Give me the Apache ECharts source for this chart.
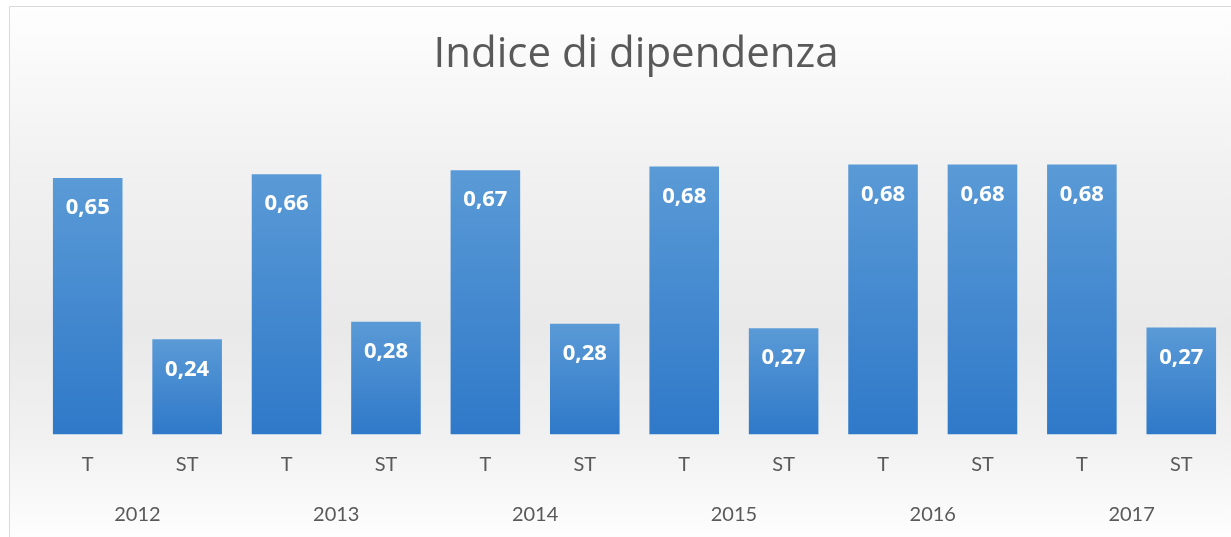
<!DOCTYPE html>
<html>
<head>
<meta charset="utf-8">
<script src="https://cdn.jsdelivr.net/npm/echarts@6/dist/echarts.min.js"></script>
<style>
  html, body { margin: 0; padding: 0; background: #fff; }
  #main { width: 1231px; height: 537px; }
</style>
</head>
<body>
<div id="main"></div>
<script>
// dati
const categories = ['T', 'ST', 'T', 'ST', 'T', 'ST', 'T', 'ST', 'T', 'ST', 'T', 'ST'];
const years = ['2012', '2013', '2014', '2015', '2016', '2017'];
const values = [0.647, 0.240, 0.657, 0.284, 0.667, 0.279, 0.676, 0.268, 0.681, 0.681, 0.681, 0.270];

const chart = echarts.init(document.getElementById('main'));

const option = {
  backgroundColor: '#ffffff',
  animation: false,
  graphic: [
    {
      type: 'rect',
      z: -10,
      shape: { x: 9.5, y: 6.5, width: 1260, height: 540 },
      style: {
        fill: new echarts.graphic.LinearGradient(0, 0, 0, 1, [
          { offset: 0, color: '#fefefe' },
          { offset: 0.3, color: '#f1f1f1' },
          { offset: 0.6, color: '#e9e9e9' },
          { offset: 0.8, color: '#f1f1f1' },
          { offset: 1, color: '#ffffff' }
        ]),
        stroke: '#d9d9d9',
        lineWidth: 1
      }
    }
  ],
  title: {
    text: 'Indice di dipendenza',
    left: 631,
    top: 29,
    textAlign: 'center',
    textStyle: {
      fontFamily: 'Open Sans',
      fontSize: 42,
      fontWeight: 'normal',
      color: '#595959'
    }
  },
  grid: {
    left: 38,
    width: 1201,
    top: 117.5,
    bottom: 102.7
  },
  xAxis: [
    {
      type: 'category',
      data: categories,
      axisLine: { show: false },
      axisTick: { show: false },
      axisLabel: {
        margin: 20,
        fontFamily: 'Lato',
        fontSize: 20,
        color: '#595959'
      }
    },
    {
      type: 'category',
      data: years,
      position: 'bottom',
      offset: 50,
      axisLine: { show: false },
      axisTick: { show: false },
      axisLabel: {
        margin: 20,
        fontFamily: 'Lato',
        fontSize: 20,
        color: '#595959'
      }
    }
  ],
  yAxis: {
    type: 'value',
    min: 0,
    max: 0.8,
    show: false,
    splitLine: { show: false }
  },
  series: [
    {
      type: 'bar',
      data: values,
      barCategoryGap: '30%',
      itemStyle: {
        color: new echarts.graphic.LinearGradient(0, 0, 0, 1, [
          { offset: 0, color: '#5a9ad6' },
          { offset: 1, color: '#2f79c9' }
        ])
      },
      label: {
        show: true,
        position: 'insideTop',
        distance: 19,
        color: '#ffffff',
        fontFamily: 'Open Sans',
        fontWeight: 'bold',
        fontSize: 22,
        formatter: p => p.value.toFixed(2).replace('.', ',')
      }
    }
  ]
};

chart.setOption(option);
</script>
</body>
</html>
